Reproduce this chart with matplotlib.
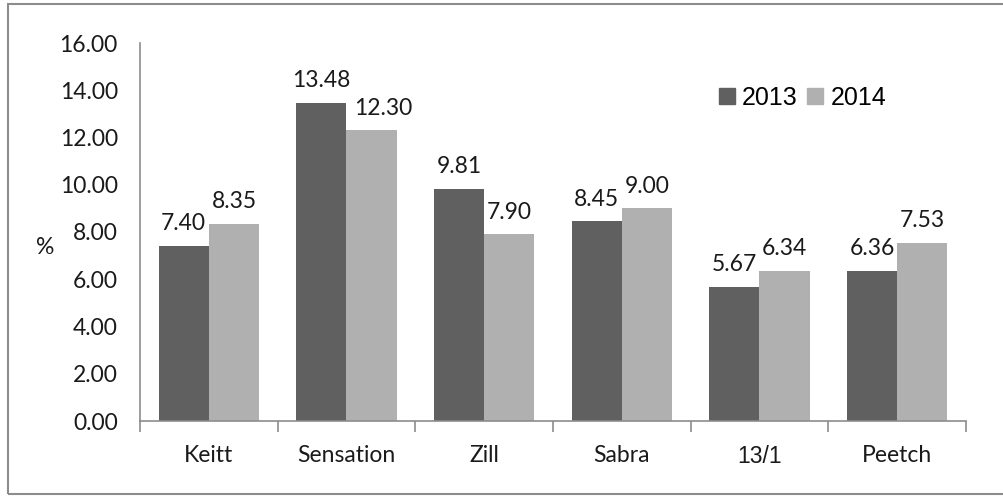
import numpy as np
import matplotlib
matplotlib.use("Agg")
import matplotlib.pyplot as plt
from matplotlib.patches import Rectangle
from matplotlib.lines import Line2D

cultivars = ["Keitt", "Sensation", "Zill", "Sabra", "13/1", "Peetch"]
vals_2013 = [7.40, 13.48, 9.81, 8.45, 5.67, 6.36]
vals_2014 = [8.35, 12.30, 7.90, 9.00, 6.34, 7.53]
yticks = [0, 2, 4, 6, 8, 10, 12, 14, 16]

DARK = "#606060"
LIGHT = "#b0b0b0"
FONT = "Lato"

fig = plt.figure(figsize=(10.04, 4.97), dpi=100)
ax = fig.add_axes([140 / 1004, 1 - 421 / 497, 826 / 1004, 378 / 497])

# outer frame (right edge runs off the image)
fig.patches.append(Rectangle((8 / 1004, 3 / 497), 1.1, 490 / 497, transform=fig.transFigure,
                             fill=False, edgecolor="#8c8c8c", linewidth=1.5))

x = np.arange(len(cultivars))
w = 0.365
b1 = ax.bar(x - w / 2, vals_2013, w, color=DARK)
b2 = ax.bar(x + w / 2, vals_2014, w, color=LIGHT)

for bars, vals in ((b1, vals_2013), (b2, vals_2014)):
    for r, v in zip(bars, vals):
        # excel pushes the wide label off the taller neighbour
        dx = 8 if (bars is b2 and v >= 10) else 0
        ax.annotate(f"{v:.2f}", (r.get_x() + r.get_width() / 2, v + 0.5), xytext=(dx, 0),
                    textcoords="offset points", ha="center", va="bottom",
                    fontsize=16.5, family=FONT, color="#1a1a1a")

ax.set_xlim(-0.5, len(cultivars) - 0.5)
ax.set_ylim(0, 16)
ax.set_yticks(yticks)
ax.set_yticklabels([f"{t:.2f}" for t in yticks], fontsize=16.5, family=FONT, color="#1a1a1a")
ax.tick_params(axis="y", length=0, pad=16)

ax.set_xticks(x)
ax.set_xticklabels(cultivars, fontsize=16.5, family=FONT, color="#1a1a1a")
ax.set_xticks(np.arange(-0.5, len(cultivars)), minor=True)
ax.tick_params(axis="x", which="major", length=0, pad=17)
ax.tick_params(axis="x", which="minor", length=8, color="#8c8c8c", width=1.2)
ax.xaxis.get_major_ticks()[cultivars.index("13/1")].label1.set_fontfamily("Liberation Sans")

for s in ("top", "right"):
    ax.spines[s].set_visible(False)
for s in ("left", "bottom"):
    ax.spines[s].set_color("#8c8c8c")
    ax.spines[s].set_linewidth(1.2)

fig.text(45 / 1004, 1 - 247 / 497, "%", fontsize=16.5, family=FONT, ha="center", va="center",
         color="#1a1a1a")

handles = [Line2D([], [], marker="s", linestyle="none", markersize=12, color=c) for c in (DARK, LIGHT)]
ax.legend(handles, ["2013", "2014"], loc="center", bbox_to_anchor=(803 / 1004, 1 - 98 / 497),
          bbox_transform=fig.transFigure, ncol=2, frameon=False, handlelength=0.6, handletextpad=0.3,
          columnspacing=0.4, prop={"family": "Liberation Sans", "size": 18})

fig.savefig("out.png", dpi=100)
